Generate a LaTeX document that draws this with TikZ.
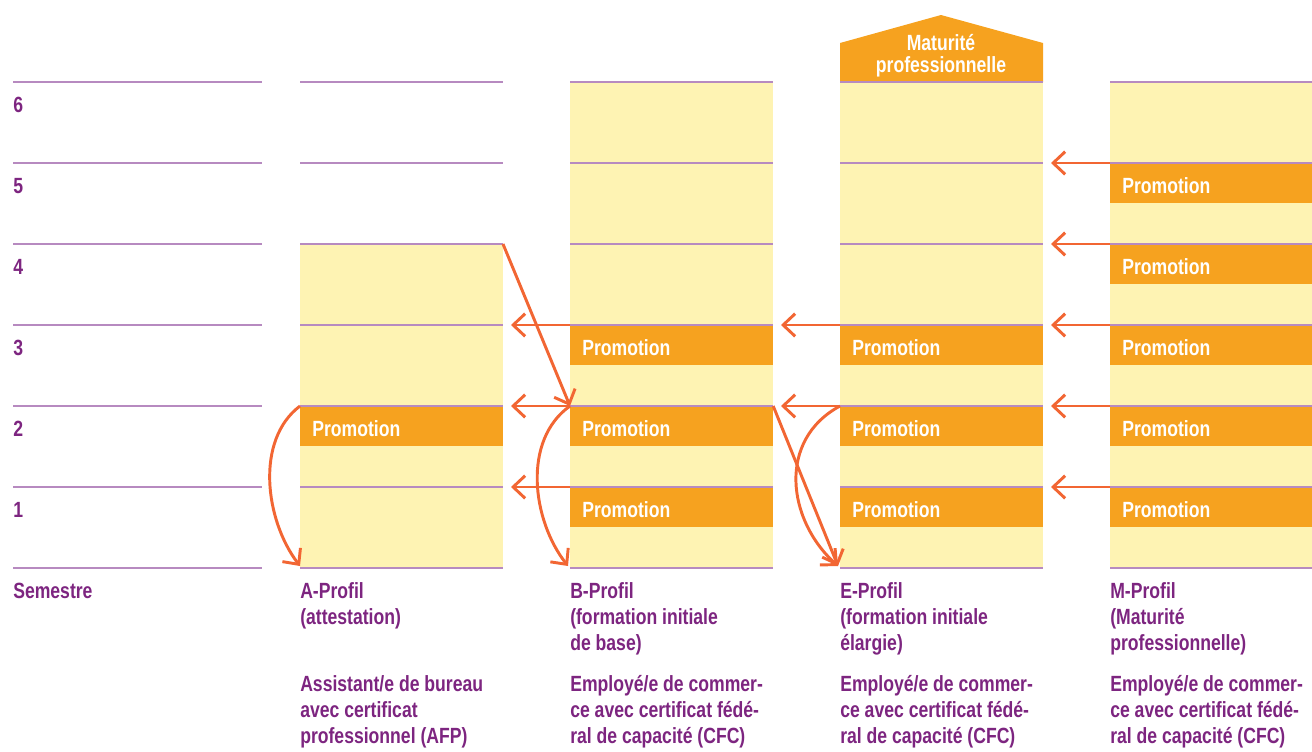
\documentclass[tikz,border=0pt]{standalone}
\usepackage{fontspec}
\setmainfont{Liberation Sans}[FakeStretch=0.8]
\usetikzlibrary{arrows.meta}

\definecolor{sand}{HTML}{FEF3B3}
\definecolor{amber}{HTML}{F6A21F}
\definecolor{flame}{HTML}{F26633}
\definecolor{plum}{HTML}{7D2580}
\definecolor{lilac}{HTML}{B78AC0}

\begin{document}
\begin{tikzpicture}[x=0.75pt,y=-0.75pt,font=\fontsize{16.5}{19.5}\selectfont\bfseries]

\tikzset{
    rule/.style={draw=lilac,line width=1.4pt},
    promo/.style={fill=amber,anchor=north west,minimum width=152pt,minimum height=30pt,
        inner sep=0pt,text width=134pt,align=left,text height=15pt,text depth=0pt,text=white},
    semno/.style={anchor=base west,inner sep=0pt,text=plum},
    lab/.style={anchor=base west,inner sep=0pt,align=left,text=plum},
    move/.style={draw=flame,line width=2.2pt,-{Straight Barb[length=9pt,width=17pt]}}}

\useasboundingbox (0,0) rectangle (1312,751);

\fill[sand] (300,244) rectangle (503,568);
\fill[sand] (570,82) rectangle (773,568);
\fill[sand] (840,82) rectangle (1043,568);
\fill[sand] (1110,82) rectangle (1312,568);
\fill[amber] (840,82) -- (840,43) -- (941,15) -- (1043,43) -- (1043,82) -- cycle;

\node[promo] (pA2) at (300,406) {Promotion};

\node[promo] (pB3) at (570,325) {Promotion};
\node[promo] (pB2) at (570,406) {Promotion};
\node[promo] (pB1) at (570,487) {Promotion};

\node[promo] (pE3) at (840,325) {Promotion};
\node[promo] (pE2) at (840,406) {Promotion};
\node[promo] (pE1) at (840,487) {Promotion};

\node[promo] (pM5) at (1110,163) {Promotion};
\node[promo] (pM4) at (1110,244) {Promotion};
\node[promo] (pM3) at (1110,325) {Promotion};
\node[promo] (pM2) at (1110,406) {Promotion};
\node[promo] (pM1) at (1110,487) {Promotion};

\foreach \y in {82,163,244,325,406,487,568}{
    \draw[rule] (13,\y) -- (262,\y);
    \draw[rule] (300,\y) -- (503,\y);
    \draw[rule] (570,\y) -- (773,\y);
    \draw[rule] (840,\y) -- (1043,\y);
    \draw[rule] (1110,\y) -- (1312,\y);
}

% multi-line nodes sit on the baseline of their last line
\node[align=center,anchor=base,inner sep=0pt,text=white,font=\fontsize{16.5}{16.5}\selectfont\bfseries]
    (mp) at (941,72) {Maturité\\professionnelle};

\node[semno] (s6) at (13,112) {6};
\node[semno] (s5) at (13,193) {5};
\node[semno] (s4) at (13,274) {4};
\node[semno] (s3) at (13,355) {3};
\node[semno] (s2) at (13,436) {2};
\node[semno] (s1) at (13,517) {1};
\node[semno] (sem) at (13,598) {Semestre};

\node[lab] (labA) at (300,624) {A-Profil\\(attestation)};
\node[lab] (labB) at (570,650) {B-Profil\\(formation initiale\\de base)};
\node[lab] (labE) at (840,650) {E-Profil\\(formation initiale\\élargie)};
\node[lab] (labM) at (1110,650) {M-Profil\\(Maturité\\professionnelle)};

\node[lab] (tA) at (300,743) {Assistant/e de bureau\\avec certificat\\professionnel (AFP)};
\node[lab] (tB) at (570,743) {Employé/e de commer-\\ce avec certificat fédé-\\ral de capacité (CFC)};
\node[lab] (tE) at (840,743) {Employé/e de commer-\\ce avec certificat fédé-\\ral de capacité (CFC)};
\node[lab] (tM) at (1110,743) {Employé/e de commer-\\ce avec certificat fédé-\\ral de capacité (CFC)};

\coordinate (aR3) at (511,325);
\coordinate (aR2) at (511,406);
\coordinate (aR1) at (511,487);
\coordinate (bR3) at (781,325);
\coordinate (bR2) at (781,406);
\coordinate (eR5) at (1051,163);
\coordinate (eR4) at (1051,244);
\coordinate (eR3) at (1051,325);
\coordinate (eR2) at (1051,406);
\coordinate (eR1) at (1051,487);
\coordinate (aTop) at (503,244);
\coordinate (aFoot) at (300,566);
\coordinate (bFoot) at (568,566);
\coordinate (eFoot) at (838,566);

\draw[move] (pB3.north west) -- (aR3);
\draw[move] (pB2.north west) -- (aR2);
\draw[move] (pB1.north west) -- (aR1);
\draw[move] (pE3.north west) -- (bR3);
\draw[move] (pE2.north west) -- (bR2);
\draw[move] (pM5.north west) -- (eR5);
\draw[move] (pM4.north west) -- (eR4);
\draw[move] (pM3.north west) -- (eR3);
\draw[move] (pM2.north west) -- (eR2);
\draw[move] (pM1.north west) -- (eR1);

\draw[move] (aTop) -- (pB2.north west);
\draw[move] (pB2.north east) -- (eFoot);

\draw[move] (pA2.north west) .. controls (255,440) and (265,520) .. (aFoot);
\draw[move] (pB2.north west) .. controls (522,440) and (532,520) .. (bFoot);
\draw[move] (pE2.north west) .. controls (777,440) and (787,520) .. (eFoot);

\end{tikzpicture}
\end{document}
